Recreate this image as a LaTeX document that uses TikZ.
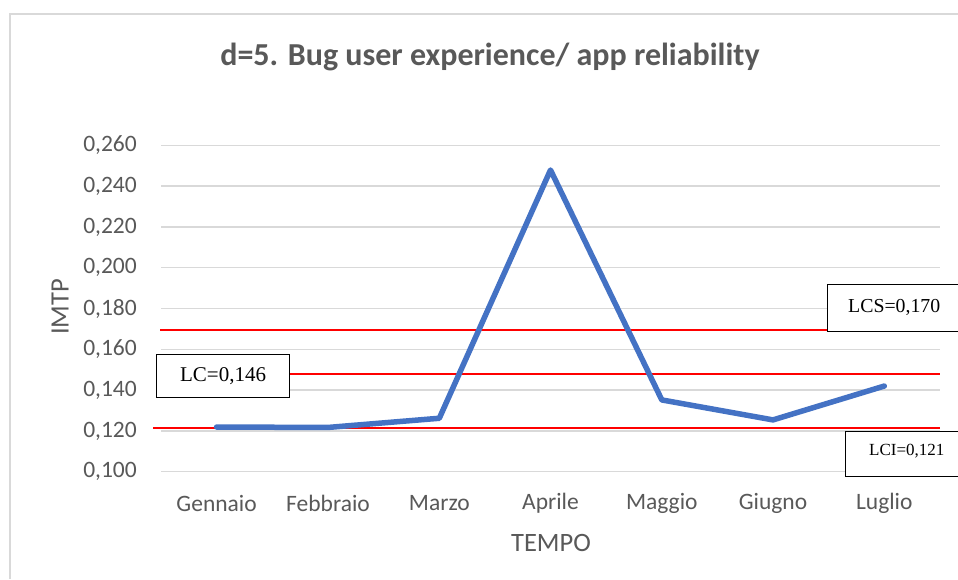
\documentclass[tikz,border=0pt]{standalone}
\usepackage{fontspec}
\setmainfont{Carlito}
\newfontfamily\timesfont{Liberation Serif}
\definecolor{txtgray}{HTML}{595959}
\definecolor{gridgray}{HTML}{D9D9D9}
\definecolor{serieblue}{HTML}{4472C4}
\definecolor{limred}{HTML}{FF0000}
\begin{document}
\begin{tikzpicture}[x=1pt,y=-1pt,
  gridline/.style={draw=gridgray,line width=1.4pt},
  limline/.style={draw=limred,line width=1.3pt},
  ticklabel/.style={anchor=east,inner sep=0pt,text=txtgray,font=\fontsize{23.5}{26}\selectfont},
  catlabel/.style={anchor=center,inner sep=0pt,text=txtgray,font=\fontsize{23.5}{26}\selectfont},
  axistitle/.style={anchor=center,inner sep=0pt,text=txtgray,font=\fontsize{26.5}{29}\selectfont},
  limbox/.style={draw=black,line width=1.2pt,fill=white,inner sep=0pt,anchor=north west},
  serie/.style={draw=serieblue,line width=5.5pt,line cap=round,line join=round}]
\useasboundingbox (0,0) rectangle (958,579);
\fill[white] (0,0) rectangle (958,579);
% chart border
\draw[draw=gridgray,line width=2pt] (958,14) -- (10,14) -- (10,579);
% title
\node[text=txtgray,font=\bfseries\fontsize{32}{35}\selectfont,inner sep=0pt] (title) at (490,57) {d=5. Bug user experience/ app reliability};
% gridlines and tick labels
\foreach \v/\lab [count=\i] in {0.100/{0,100},0.120/{0,120},0.140/{0,140},0.160/{0,160},0.180/{0,180},0.200/{0,200},0.220/{0,220},0.240/{0,240},0.260/{0,260}}{
  \draw[gridline] (161,{471.7-(\v-0.1)*2040}) -- (940,{471.7-(\v-0.1)*2040});
  \node[ticklabel] (tick\i) at (137,{471.7-(\v-0.1)*2040}) {\lab};
}
% limit lines
\draw[limline] (160,330) -- (940,330);
\draw[limline] (160,374) -- (940,374);
\draw[limline] (153,428) -- (940,428);
% category labels
\foreach \x/\lab in {216.6/Gennaio,328/Febbraio,439.3/Marzo,550.5/Aprile,661.8/Maggio,773/Giugno,884.3/Luglio}{
  \node[catlabel] (cat\lab) at (\x,503) {\lab};
}
% axis titles
\node[axistitle,rotate=90] (ytitle) at (60,307) {IMTP};
\node[axistitle] (xtitle) at (551,543) {TEMPO};
% series points
\coordinate (p1) at (216.6,{471.7-(0.1219-0.1)*2040});
\coordinate (p2) at (328,{471.7-(0.1217-0.1)*2040});
\coordinate (p3) at (439.3,{471.7-(0.1262-0.1)*2040});
\coordinate (p4) at (550.5,{471.7-(0.2479-0.1)*2040});
\coordinate (p5) at (661.8,{471.7-(0.1352-0.1)*2040});
\coordinate (p6) at (773,{471.7-(0.1254-0.1)*2040});
\coordinate (p7) at (884.3,{471.7-(0.1420-0.1)*2040});
\draw[serie] (p1) -- (p2) -- (p3) -- (p4) -- (p5) -- (p6) -- (p7);
% limit boxes
\node[limbox,minimum width=133pt,minimum height=43pt] (lcbox) at (156,354) {};
\node[font=\timesfont\fontsize{21}{24}\selectfont,inner sep=0pt] (lctext) at (lcbox.center) {LC=0,146};
\node[limbox,minimum width=132pt,minimum height=47pt] (lcsbox) at (827,284) {};
\node[font=\timesfont\fontsize{19.8}{23}\selectfont,inner sep=0pt,anchor=west] (lcstext) at (848,307.5) {LCS=0,170};
\node[limbox,minimum width=115pt,minimum height=45pt] (lcibox) at (845,431) {};
\node[font=\timesfont\fontsize{17}{20}\selectfont,inner sep=0pt,anchor=west] (lcitext) at (869,451) {LCI=0,121};
\end{tikzpicture}
\end{document}
